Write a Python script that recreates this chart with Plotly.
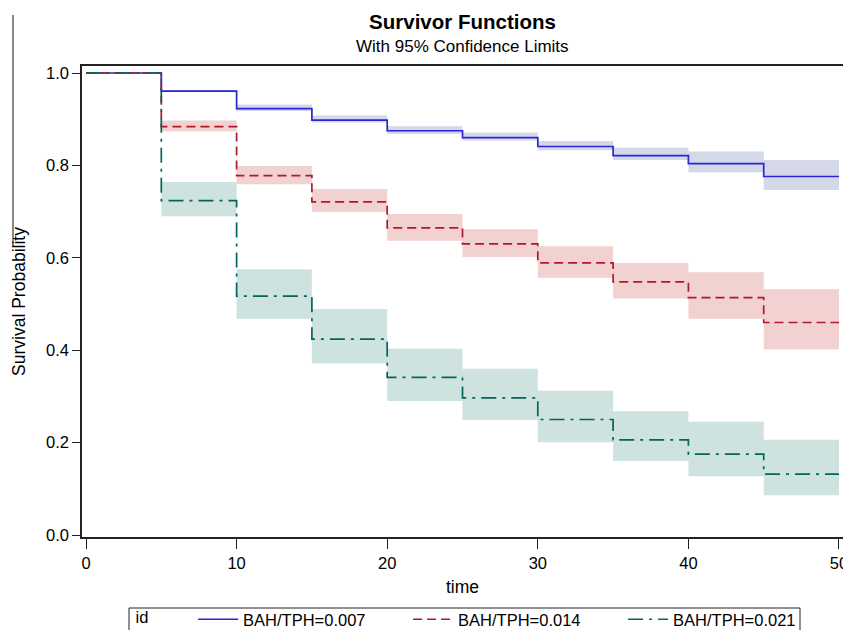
import plotly.graph_objects as go

# Interval start times; the last value closes the final step
times = [0, 5, 10, 15, 20, 25, 30, 35, 40, 45, 50]

groups = ["BAH/TPH=0.007", "BAH/TPH=0.014", "BAH/TPH=0.021"]

# Kaplan-Meier survival estimate on each interval [t_i, t_i+1)
surv_007 = [1.0, 0.961, 0.923, 0.898, 0.875, 0.860, 0.841, 0.821, 0.804, 0.776]
surv_014 = [1.0, 0.884, 0.778, 0.721, 0.665, 0.630, 0.589, 0.548, 0.514, 0.460]
surv_021 = [1.0, 0.724, 0.517, 0.424, 0.341, 0.297, 0.250, 0.206, 0.175, 0.132]

# 95% confidence limits
lower_007 = [1.0, 0.959, 0.918, 0.893, 0.868, 0.854, 0.833, 0.812, 0.785, 0.747]
upper_007 = [1.0, 0.963, 0.932, 0.908, 0.885, 0.871, 0.853, 0.838, 0.830, 0.812]
lower_014 = [1.0, 0.874, 0.759, 0.699, 0.637, 0.602, 0.557, 0.512, 0.468, 0.402]
upper_014 = [1.0, 0.897, 0.799, 0.749, 0.695, 0.662, 0.625, 0.589, 0.569, 0.532]
lower_021 = [1.0, 0.690, 0.468, 0.372, 0.290, 0.249, 0.201, 0.160, 0.127, 0.086]
upper_021 = [1.0, 0.764, 0.575, 0.489, 0.403, 0.360, 0.312, 0.268, 0.245, 0.206]

x_ticks = [0, 10, 20, 30, 40, 50]
y_ticks = [0.0, 0.2, 0.4, 0.6, 0.8, 1.0]

line_colors = ["#2A25D9", "#B2182B", "#01665E"]
band_colors = ["rgba(111,126,179,0.30)", "rgba(208,91,91,0.28)", "rgba(102,165,160,0.32)"]
dashes = ["solid", "9px,5px", "15px,6px,3px,6px"]

FONT = "Liberation Sans, Arial, sans-serif"

series = [
    (surv_007, lower_007, upper_007),
    (surv_014, lower_014, upper_014),
    (surv_021, lower_021, upper_021),
]


def closed(values):
    # repeat the final estimate so the last step reaches the end of follow-up
    return list(values) + [values[-1]]


fig = go.Figure()

# confidence bands first so the curves sit on top
for (s, lo, hi), fill in zip(series, band_colors):
    fig.add_trace(go.Scatter(
        x=times[1:], y=closed(hi)[1:], mode="lines", line=dict(width=0, shape="hv"),
        showlegend=False, hoverinfo="skip"))
    fig.add_trace(go.Scatter(
        x=times[1:], y=closed(lo)[1:], mode="lines", line=dict(width=0, shape="hv"),
        fill="tonexty", fillcolor=fill, showlegend=False, hoverinfo="skip"))

for (s, lo, hi), name, color, dash in zip(series, groups, line_colors, dashes):
    fig.add_trace(go.Scatter(
        x=times, y=closed(s), mode="lines", name=name,
        line=dict(color=color, width=1.7, dash=dash, shape="hv")))

# pixel helpers for the plot area (left 82, top 66, width 761, height 471)
def px_x(p):
    return (p - 82) / 761


def px_y(p):
    return (537 - p) / 471


fig.update_layout(
    width=843, height=630,
    paper_bgcolor="white", plot_bgcolor="white",
    margin=dict(l=82, r=0, t=66, b=93, autoexpand=False),
    font=dict(family=FONT, size=16, color="black"),
    title=dict(text="<b>Survivor Functions</b>", x=0.5, xanchor="center",
               xref="paper", y=1 - 22 / 630, yanchor="middle", yref="container",
               font=dict(size=20.5, family=FONT, color="black")),
    showlegend=True,
    legend=dict(
        orientation="h", traceorder="normal",
        x=px_x(129), xanchor="left", y=px_y(602), yanchor="top",
        title=dict(text="\u00a0id" + "\u00a0" * 8, font=dict(size=16.5)),
        font=dict(size=16.5), borderwidth=0, bgcolor="rgba(0,0,0,0)",
        itemwidth=40, entrywidth=160, entrywidthmode="pixels"),
    annotations=[dict(
        text="With 95% Confidence Limits", xref="paper", yref="paper",
        x=0.5, y=px_y(46), xanchor="center", yanchor="middle",
        showarrow=False, font=dict(size=17, family=FONT, color="black"))],
    shapes=[
        dict(type="line", xref="paper", yref="paper",
             x0=px_x(13), x1=px_x(13), y0=px_y(15), y1=px_y(247),
             line=dict(color="#111111", width=1)),
        # frame around the legend entries
        dict(type="rect", xref="paper", yref="paper",
             x0=px_x(129), x1=px_x(800), y0=px_y(608), y1=px_y(640),
             line=dict(color="#222222", width=1), layer="above"),
    ],
)

fig.update_xaxes(
    range=[-0.266, 50.266], tickvals=x_ticks, ticktext=[str(v) for v in x_ticks],
    showline=True, linecolor="#222222", linewidth=1.5, mirror=True,
    ticks="outside", ticklen=10, tickcolor="#222222", tickwidth=1,
    ticklabeloverflow="allow",
    showgrid=False, zeroline=False,
    title=dict(text="time", standoff=10, font=dict(size=17.5)),
    tickfont=dict(size=16.5))

fig.update_yaxes(
    range=[-0.0043, 1.0152], tickvals=y_ticks, ticktext=[f"{v:.1f}" for v in y_ticks],
    showline=True, linecolor="#222222", linewidth=1.5,
    ticks="outside", ticklen=8, tickcolor="#222222", tickwidth=1,
    showgrid=False, zeroline=False,
    title=dict(text="Survival Probability", standoff=16, font=dict(size=17.5)),
    tickfont=dict(size=16.5))

fig.write_html("out.html")
